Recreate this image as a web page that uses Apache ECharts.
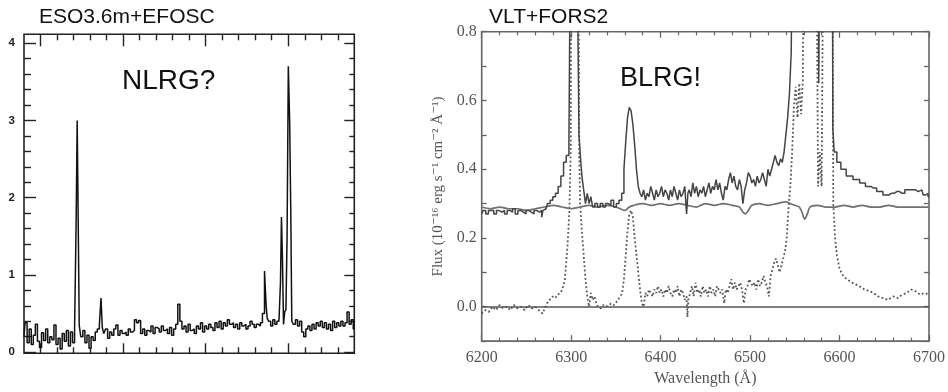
<!DOCTYPE html>
<html><head><meta charset="utf-8">
<script src="https://cdn.jsdelivr.net/npm/echarts@6/dist/echarts.min.js"></script>
<style>html,body{margin:0;padding:0;background:#fff}#c{width:948px;height:392px}</style>
</head><body><div id="c"></div>
<script>
// ---------- texts ----------
const leftTitle = 'ESO3.6m+EFOSC';
const rightTitle = 'VLT+FORS2';
const leftTag = 'NLRG?';
const rightTag = 'BLRG!';
const xName = 'Wavelength (Å)';
const yName = 'Flux (10⁻¹⁶ erg s⁻¹ cm⁻² Å⁻¹)';

// ---------- left panel ticks ----------
const leftYLabels = [0, 1, 2, 3, 4];
const leftYMinor = [0.2,0.4,0.6,0.8,1.2,1.4,1.6,1.8,2.2,2.4,2.6,2.8,3.2,3.4,3.6,3.8];
const leftXMajor = [1, 6, 11, 16];
const leftXMinor = [2,3,4,5,7,8,9,10,12,13,14,15,17,18,19];

// ---------- left spectrum (x in tick units, flux) ----------
const leftSpec = [
[0,0.20],[0.125,0.38],[0.25,0.12],[0.375,0.30],[0.5,0.10],[0.625,0.22],[0.75,0.36],[0.875,0.14],
[1,0.06],[1.125,0.25],[1.25,0.15],[1.375,0.30],[1.5,0.12],[1.625,0.20],[1.75,0.16],[1.875,0.35],
[2,0.10],[2.125,0.18],[2.25,0.04],[2.375,0.24],[2.5,0.14],[2.625,0.28],[2.75,0.08],[2.875,0.26],
[3,0.12],[3.125,0.30],[3.19,1.70],[3.25,3.00],[3.31,1.75],[3.375,0.35],[3.5,0.20],[3.625,0.28],
[3.75,0.12],[3.875,0.22],[4,0.05],[4.125,0.20],[4.25,0.15],[4.375,0.26],[4.5,0.30],[4.625,0.35],
[4.7,0.70],[4.78,0.32],[4.875,0.24],[5,0.30],[5.125,0.18],[5.25,0.26],[5.375,0.22],[5.5,0.30],
[5.625,0.35],[5.75,0.22],[5.875,0.28],[6,0.24],[6.125,0.26],[6.25,0.22],[6.375,0.30],[6.5,0.26],
[6.625,0.28],[6.75,0.42],[6.875,0.38],[7,0.41],[7.125,0.24],[7.25,0.30],[7.375,0.22],[7.5,0.28],
[7.625,0.26],[7.75,0.34],[7.875,0.24],[8,0.32],[8.125,0.30],[8.25,0.26],[8.375,0.34],[8.5,0.28],
[8.625,0.30],[8.75,0.24],[8.875,0.32],[9,0.22],[9.125,0.30],[9.25,0.36],[9.375,0.62],[9.5,0.40],
[9.625,0.30],[9.75,0.34],[9.875,0.26],[10,0.36],[10.125,0.28],[10.25,0.30],[10.375,0.24],[10.5,0.34],
[10.625,0.30],[10.75,0.38],[10.875,0.26],[11,0.34],[11.125,0.30],[11.25,0.36],[11.375,0.32],[11.5,0.28],
[11.625,0.38],[11.75,0.32],[11.875,0.40],[12,0.30],[12.125,0.38],[12.25,0.34],[12.375,0.42],[12.5,0.36],
[12.625,0.38],[12.75,0.32],[12.875,0.36],[13,0.30],[13.125,0.38],[13.25,0.34],[13.375,0.36],[13.5,0.30],
[13.625,0.34],[13.75,0.40],[13.875,0.36],[14,0.32],[14.125,0.36],[14.25,0.34],[14.375,0.38],[14.5,0.50],
[14.625,1.05],[14.7,0.60],[14.75,0.44],[14.875,0.40],[15,0.34],[15.125,0.42],[15.25,0.36],[15.375,0.40],
[15.5,0.38],[15.56,0.90],[15.62,1.75],[15.68,1.20],[15.75,0.36],[15.82,0.52],[15.9,0.55],[15.96,1.50],
[16.05,3.70],[16.12,3.00],[16.18,1.90],[16.25,0.40],[16.375,0.36],[16.5,0.42],[16.625,0.34],[16.75,0.40],
[16.875,0.26],[17,0.20],[17.125,0.30],[17.25,0.34],[17.375,0.28],[17.5,0.36],[17.625,0.30],[17.75,0.38],
[17.875,0.34],[18,0.40],[18.125,0.32],[18.25,0.38],[18.375,0.30],[18.5,0.36],[18.625,0.28],[18.75,0.40],
[18.875,0.32],[19,0.38],[19.125,0.34],[19.25,0.40],[19.375,0.34],[19.5,0.38],[19.625,0.52],[19.75,0.36],
[19.875,0.42],[20,0.30]
];

// ---------- right panel: observed spectrum (solid, noisy) ----------
const obsSpec = [
[6200,0.27],[6203,0.28],[6206,0.27],[6209,0.28],[6212,0.28],[6215,0.27],[6218,0.28],[6221,0.275],
[6224,0.28],[6227,0.27],[6230,0.28],[6233,0.275],[6236,0.285],[6239,0.27],[6242,0.28],[6245,0.275],
[6248,0.27],[6251,0.28],[6254,0.275],[6257,0.27],[6260,0.28],[6263,0.275],[6266,0.28],[6268,0.26],
[6269,0.28],[6272,0.285],[6275,0.30],[6278,0.31],[6281,0.32],[6284,0.33],[6287,0.35],[6290,0.38],
[6293,0.42],[6296,0.44],[6299,0.48],[6300,1.2],[6304,1.2],[6308,1.2],[6309.5,0.50],[6311,0.44],
[6313,0.38],[6315,0.34],[6317,0.30],[6319,0.33],[6321,0.30],[6323,0.32],[6325,0.29],[6328,0.30],
[6331,0.29],[6334,0.30],[6337,0.29],[6340,0.30],[6343,0.295],[6346,0.31],[6349,0.29],[6352,0.30],
[6355,0.31],[6358,0.33],[6360,0.40],[6362,0.48],[6364,0.55],[6366,0.58],[6368,0.57],[6370,0.53],
[6372,0.47],[6374,0.40],[6376,0.35],[6378,0.33],[6380,0.32],[6382,0.34],[6384,0.31],[6386,0.33],
[6388,0.32],[6390,0.35],[6392,0.33],[6394,0.31],[6396,0.34],[6398,0.32],[6400,0.33],[6402,0.35],
[6404,0.32],[6406,0.34],[6408,0.33],[6410,0.31],[6412,0.34],[6414,0.32],[6416,0.35],[6418,0.33],
[6420,0.31],[6422,0.34],[6424,0.32],[6426,0.33],[6428,0.35],[6430,0.27],[6431,0.33],[6433,0.34],
[6435,0.32],[6437,0.36],[6439,0.33],[6441,0.35],[6443,0.32],[6445,0.34],[6447,0.33],[6449,0.35],
[6451,0.32],[6453,0.34],[6455,0.36],[6457,0.33],[6459,0.35],[6461,0.34],[6463,0.37],[6465,0.34],
[6467,0.36],[6469,0.33],[6471,0.31],[6473,0.35],[6475,0.34],[6477,0.37],[6479,0.39],[6481,0.36],
[6483,0.38],[6485,0.35],[6487,0.34],[6489,0.37],[6491,0.35],[6493,0.30],[6495,0.34],[6497,0.36],
[6499,0.39],[6501,0.38],[6503,0.36],[6505,0.37],[6507,0.35],[6509,0.38],[6511,0.36],[6513,0.37],
[6515,0.39],[6517,0.37],[6519,0.35],[6521,0.40],[6523,0.38],[6525,0.40],[6527,0.42],[6529,0.44],
[6531,0.42],[6533,0.41],[6535,0.43],[6537,0.42],[6539,0.45],[6541,0.50],[6543,0.55],[6545,0.62],
[6547,0.74],[6548,1.2],[6576,1.2],[6577.5,0.65],[6579,1.2],[6592,1.2],[6593,0.52],[6595,0.45],
[6599,0.42],[6604,0.40],[6611,0.38],[6619,0.37],[6626,0.36],[6632,0.35],[6638,0.345],[6645,0.335],
[6652,0.325],[6658,0.33],[6664,0.335],[6670,0.33],[6676,0.34],[6682,0.34],[6688,0.335],[6692,0.34],
[6695,0.325],[6698,0.33],[6700,0.32]
];

// ---------- right panel: template (smooth grey solid) ----------
const tplSpec = [
[6200,0.29],[6210,0.285],[6220,0.29],[6230,0.285],[6240,0.285],[6250,0.28],[6260,0.285],[6270,0.29],
[6280,0.295],[6290,0.29],[6300,0.285],[6310,0.29],[6320,0.295],[6330,0.29],[6340,0.295],[6350,0.29],
[6355,0.285],[6360,0.28],[6365,0.29],[6370,0.295],[6380,0.30],[6390,0.295],[6400,0.30],[6410,0.295],
[6420,0.30],[6430,0.295],[6440,0.29],[6450,0.30],[6460,0.295],[6470,0.30],[6480,0.295],[6488,0.29],
[6492,0.275],[6495,0.27],[6498,0.28],[6502,0.295],[6510,0.30],[6520,0.295],[6530,0.30],[6540,0.305],
[6545,0.30],[6550,0.295],[6555,0.29],[6558,0.275],[6561,0.255],[6564,0.27],[6567,0.29],[6575,0.295],
[6585,0.29],[6595,0.29],[6605,0.295],[6615,0.29],[6625,0.295],[6635,0.29],[6645,0.29],[6655,0.295],
[6665,0.29],[6675,0.29],[6685,0.29],[6700,0.29]
];

// ---------- right panel: residual (dotted) ----------
const resSpec = [
[6200,-0.02],[6204,-0.01],[6208,-0.015],[6212,0.0],[6216,-0.01],[6220,0.005],[6224,-0.005],[6228,0.0],
[6232,-0.01],[6236,0.005],[6240,-0.005],[6244,0.0],[6248,-0.01],[6252,0.005],[6256,-0.005],[6260,0.0],
[6264,-0.01],[6268,-0.02],[6270,-0.015],[6273,0.01],[6276,0.02],[6279,0.03],[6282,0.025],[6285,0.035],
[6288,0.04],[6290,0.05],[6293,0.08],[6296,0.18],[6298,0.28],[6299.5,0.45],[6300,1.2],[6308,1.2],
[6309,0.45],[6310,0.30],[6312,0.22],[6314,0.15],[6316,0.08],[6318,0.03],[6320,0.0],[6322,0.04],
[6324,0.02],[6326,0.03],[6328,0.01],[6330,0.0],[6333,-0.005],[6336,0.005],[6339,0.0],[6342,0.005],
[6345,0.01],[6348,0.005],[6351,0.015],[6353,0.02],[6355,0.03],[6357,0.04],[6359,0.08],[6361,0.15],
[6363,0.22],[6365,0.27],[6367,0.28],[6369,0.26],[6371,0.20],[6373,0.15],[6375,0.10],[6377,0.05],
[6379,0.01],[6381,0.0],[6383,0.04],[6385,0.03],[6387,0.05],[6389,0.04],[6391,0.03],[6393,0.05],
[6395,0.04],[6397,0.06],[6399,0.04],[6401,0.05],[6403,0.03],[6405,0.05],[6407,0.04],[6409,0.06],
[6411,0.04],[6413,0.03],[6415,0.05],[6417,0.04],[6419,0.06],[6421,0.03],[6423,0.05],[6425,0.04],
[6427,0.02],[6429,0.03],[6430,-0.03],[6431,0.02],[6433,0.04],[6435,0.06],[6437,0.03],[6439,0.07],
[6441,0.04],[6443,0.05],[6445,0.03],[6447,0.06],[6449,0.04],[6451,0.05],[6453,0.03],[6455,0.06],
[6457,0.04],[6459,0.05],[6461,0.03],[6463,0.06],[6465,0.05],[6467,0.04],[6469,0.05],[6471,0.01],
[6473,0.05],[6475,0.04],[6477,0.06],[6479,0.08],[6481,0.05],[6483,0.07],[6485,0.05],[6487,0.06],
[6489,0.07],[6491,0.05],[6493,0.01],[6495,0.05],[6497,0.06],[6499,0.08],[6501,0.07],[6503,0.06],
[6505,0.07],[6507,0.05],[6509,0.08],[6511,0.06],[6513,0.07],[6515,0.09],[6517,0.07],[6519,0.06],
[6521,0.03],[6523,0.09],[6525,0.11],[6527,0.13],[6529,0.14],[6531,0.12],[6533,0.10],[6535,0.12],
[6537,0.12],[6539,0.16],[6541,0.20],[6543,0.29],[6545,0.35],[6547,0.45],[6549,0.58],[6551,0.64],
[6553,0.55],[6555,0.65],[6557,0.56],[6559,0.66],[6560,1.2],[6574,1.2],[6576,0.35],[6578,0.45],
[6580,0.35],[6582,1.2],[6592,1.2],[6593,0.30],[6595,0.20],[6597,0.15],[6600,0.11],[6604,0.09],
[6608,0.08],[6614,0.07],[6618,0.065],[6622,0.06],[6628,0.05],[6634,0.045],[6638,0.04],[6643,0.03],
[6649,0.025],[6654,0.02],[6660,0.03],[6665,0.025],[6670,0.035],[6675,0.04],[6680,0.05],[6685,0.045],
[6690,0.035],[6695,0.04],[6700,0.035]
];

const serif = '"Liberation Serif","DejaVu Serif",serif';
const sans = '"Liberation Sans",Arial,sans-serif';

function tickAxis(gridIndex, pos, vals, len, color, min, max) {
  return {
    gridIndex, type: 'value', position: pos, min, max,
    axisLine: { show: false, onZero: false },
    axisTick: { show: true, inside: true, length: len, customValues: vals, lineStyle: { color, width: 1.4 } },
    axisLabel: { show: false },
    splitLine: { show: false }
  };
}
function rightX(pos, showLabel) {
  const ax = {
    gridIndex: 1, type: 'value', position: pos, min: 6200, max: 6700, interval: 100,
    axisLine: { show: false, onZero: false },
    axisTick: { show: true, inside: true, length: 6, lineStyle: { color: '#666', width: 1.3 } },
    minorTick: { show: true, splitNumber: 5, length: 3.5, lineStyle: { color: '#666', width: 1.2 } },
    axisLabel: { show: false },
    splitLine: { show: false }
  };
  if (showLabel) {
    ax.axisLabel = { show: true, margin: 9, color: '#555', fontFamily: serif, fontSize: 16, formatter: v => String(v) };
    ax.name = xName; ax.nameLocation = 'middle'; ax.nameGap = 27;
    ax.nameTextStyle = { color: '#555', fontFamily: serif, fontSize: 16 };
  }
  return ax;
}
function rightY(pos, showLabel) {
  const ax = {
    gridIndex: 1, type: 'value', position: pos, min: -0.1, max: 0.8, interval: 0.1,
    axisLine: { show: false, onZero: false },
    axisTick: { show: true, inside: true, length: 5, lineStyle: { color: '#666', width: 1.3 } },
    axisLabel: { show: false },
    splitLine: { show: false }
  };
  if (showLabel) {
    ax.axisLabel = {
      show: true, margin: 5, color: '#555', fontFamily: serif, fontSize: 16,
      formatter: v => { const k = Math.round(v * 10); return (k >= 0 && k % 2 === 0) ? (k / 10).toFixed(1) : ''; }
    };
    ax.name = yName; ax.nameLocation = 'middle'; ax.nameGap = 36;
    ax.nameTextStyle = { color: '#555', fontFamily: serif, fontSize: 15 };
  }
  return ax;
}

const LX = [0, 20], LY = [-0.015, 4.115];
const leftCol = '#222';
const leftYMain = tickAxis(0, 'left', leftYLabels, 12, leftCol, LY[0], LY[1]);
leftYMain.axisLabel = { show: true, customValues: leftYLabels, margin: 9, color: '#222', fontFamily: sans, fontWeight: 'bold', fontSize: 11.5 };

const xAxes = [
  tickAxis(0, 'bottom', leftXMajor, 10, leftCol, LX[0], LX[1]),   // 0
  tickAxis(0, 'top', leftXMajor, 12, leftCol, LX[0], LX[1]),      // 1
  rightX('bottom', true),                                         // 2
  rightX('top', false),                                           // 3
  tickAxis(2, 'bottom', leftXMinor, 6, leftCol, LX[0], LX[1]),    // 4
  tickAxis(2, 'top', leftXMinor, 6, leftCol, LX[0], LX[1])        // 5
];
const yAxes = [
  leftYMain,                                                      // 0
  tickAxis(0, 'right', leftYLabels, 10, leftCol, LY[0], LY[1]),   // 1
  rightY('left', true),                                           // 2
  rightY('right', false),                                         // 3
  tickAxis(2, 'left', leftYMinor, 7, leftCol, LY[0], LY[1]),      // 4
  tickAxis(2, 'right', leftYMinor, 5, leftCol, LY[0], LY[1])      // 5
];

const chart = echarts.init(document.getElementById('c'), null, { renderer: 'canvas' });
chart.setOption({
  animation: false,
  backgroundColor: '#fff',
  grid: [
    { left: 24, top: 34.3, width: 330.3, height: 319, show: true, borderColor: '#222', borderWidth: 1.6, backgroundColor: 'transparent' },
    { left: 481.7, top: 31.7, width: 451, height: 312.8, show: true, borderColor: '#666', borderWidth: 1.6, backgroundColor: 'transparent' },
    { left: 24, top: 34.3, width: 330.3, height: 319, show: false }
  ],
  xAxis: xAxes,
  yAxis: yAxes,
  graphic: [
    { type: 'text', left: 39, top: 7, style: { text: leftTitle, font: '21px ' + sans, fill: '#111' } },
    { type: 'text', left: 489, top: 7, style: { text: rightTitle, font: '21px ' + sans, fill: '#111' } },
    { type: 'text', left: 122, top: 67, style: { text: leftTag, font: '28px ' + sans, fill: '#111' } },
    { type: 'text', left: 620, top: 65, style: { text: rightTag, font: '27px ' + sans, fill: '#111' } }
  ],
  series: [
    { type: 'line', xAxisIndex: 0, yAxisIndex: 0, data: leftSpec, step: 'middle', showSymbol: false,
      lineStyle: { color: '#111', width: 1.5 }, silent: true },
    { type: 'line', xAxisIndex: 2, yAxisIndex: 2, data: resSpec, showSymbol: false,
      lineStyle: { color: '#555', width: 1.8, type: [1.8, 2.4] }, silent: true },
    { type: 'line', xAxisIndex: 2, yAxisIndex: 2, data: tplSpec, showSymbol: false, smooth: 0.3,
      lineStyle: { color: '#707070', width: 1.7 }, silent: true,
      markLine: { silent: true, symbol: ['none', 'none'], label: { show: false },
        lineStyle: { color: '#555', type: 'solid', width: 1.5 }, data: [{ yAxis: 0 }] } },
    { type: 'line', xAxisIndex: 2, yAxisIndex: 2, data: obsSpec, step: 'middle', showSymbol: false,
      lineStyle: { color: '#444', width: 1.5 }, silent: true }
  ]
});
</script></body></html>
